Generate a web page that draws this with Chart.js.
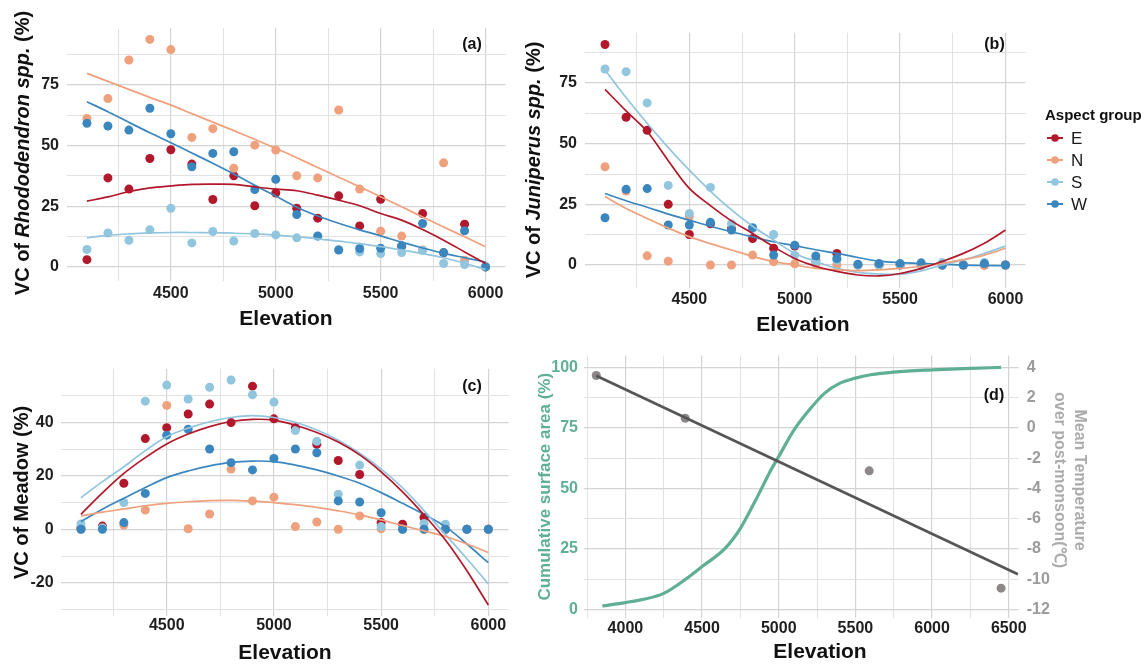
<!DOCTYPE html>
<html>
<head>
<meta charset="utf-8">
<script src="https://cdn.jsdelivr.net/npm/chart.js@4.4.1/dist/chart.umd.min.js"></script>
<style>
  html, body { margin: 0; padding: 0; background: #ffffff; }
  #wrap { position: relative; width: 1144px; height: 666px; overflow: hidden; background: #fff; }
  canvas { position: absolute; }
</style>
</head>
<body>
<div id="wrap">
  <canvas id="cA" width="520" height="340" style="left:0px;top:0px"></canvas>
  <canvas id="cB" width="624" height="340" style="left:520px;top:0px"></canvas>
  <canvas id="cC" width="520" height="336" style="left:0px;top:330px"></canvas>
  <canvas id="cD" width="624" height="336" style="left:520px;top:330px"></canvas>
</div>
<script>
// ---------------- DATA ----------------
const elevation = [4100,4200,4300,4400,4500,4600,4700,4800,4900,5000,5100,5200,5300,5400,5500,5600,5700,5800,5900,6000];
const groups = ['E','N','S','W'];
const groupColors = ['#b2182b','#efa07c','#92c5de','#3a87bf'];

// (a) Rhododendron spp. vegetation cover (%)
const rhoE = [3.0,36.7,32.1,44.7,48.3,42.4,27.8,37.6,25.2,30.5,24.2,20.1,29.3,16.9,27.9,8.5,22.0,5.8,17.6,0];
const rhoN = [61.2,69.4,85.3,93.8,89.6,53.4,57.0,40.7,50.2,48.2,37.6,36.7,64.7,32.1,14.7,12.7,7.0,42.9,2.8,0];
const rhoS = [7.2,14.0,11.0,15.3,24.2,9.9,14.6,10.7,13.8,13.2,12.0,12.6,7.1,6.2,5.5,5.9,6.9,1.4,1.0,0];
const rhoW = [59.2,58.1,56.4,65.4,54.9,41.3,46.8,47.5,31.9,36.1,21.6,12.8,7.0,7.6,7.7,8.7,17.9,5.9,14.9,0];
const rhoFitE = [27.1,28.9,31.0,32.6,33.4,34.0,34.1,34.0,33.0,32.1,31.4,29.6,27.5,25.2,22.0,19.3,15.4,11.0,6.2,1.4];
const rhoFitN = [79.8,76.5,73.2,69.9,66.7,63.2,59.7,56.2,52.6,48.9,45.0,41.0,37.0,33.0,28.9,24.8,20.6,16.5,12.4,8.3];
const rhoFitS = [12.0,13.0,13.6,14.0,14.2,14.2,14.1,13.9,13.6,13.1,12.4,11.6,10.6,9.6,8.4,7.0,5.5,3.8,1.5,-1.1];
const rhoFitW = [68.1,64.0,59.6,55.3,51.2,47.0,42.7,38.3,33.7,29.2,24.6,21.0,18.0,15.3,12.8,10.2,7.8,5.6,3.8,2.0];

// (b) Juniperus spp. vegetation cover (%)
const junE = [90.9,60.9,55.5,25.0,12.6,17.0,15.0,10.9,6.9,7.8,2.0,4.8,0,0,0,0,0,0,0,0];
const junN = [40.5,30.5,3.8,1.6,20.0,0,0,4.1,1.4,0.5,0.5,0,0,0,0,0,0,0,0,0];
const junS = [80.8,79.7,66.8,32.8,21.2,32.0,17.0,15.0,12.6,4.1,1.4,2.0,0,0,0,0,1.0,0,1.0,0];
const junW = [19.5,31.2,31.5,16.5,16.5,17.6,14.4,15.4,4.1,8.2,3.7,2.7,0.3,0.6,0.6,0.9,0,0,0.6,0];
const junFitE = [72.4,63.5,55.0,43.0,31.6,24.5,18.2,13.0,7.5,2.7,-0.5,-2.6,-4.1,-4.5,-3.5,-1.4,1.5,4.8,9.0,14.4];
const junFitN = [28.2,23.3,19.2,15.2,11.7,8.8,6.2,3.6,1.4,0,-1.4,-2.0,-2.3,-2.0,-1.4,-0.5,0.7,2.2,4.1,6.9];
const junFitS = [80.4,69.0,58.4,48.4,39.1,30.5,22.7,16.0,10.3,4.8,1.5,-1.4,-3.0,-3.7,-3.8,-2.4,0,2.1,4.8,7.8];
const junFitW = [29.5,26.5,23.8,21.0,18.5,16.0,13.7,11.6,9.6,8.0,6.3,4.8,3.1,1.6,1.0,0.7,0.3,0,-0.2,-0.3];

// (c) Meadow vegetation cover (%)
const meaE = [0.5,1.2,17.2,33.9,38.0,43.1,46.8,39.9,53.5,41.3,38.0,31.8,25.7,20.5,2.5,1.9,4.4,0,0,0];
const meaN = [0,0.5,1.6,7.2,46.3,0.2,5.7,22.5,10.6,12.0,1.0,2.7,0,5.0,0.2,0,0,0,0,0];
const meaS = [2.0,0.5,10.0,47.9,53.9,48.7,53.1,55.8,50.3,47.6,36.9,32.9,13.1,24.0,1.0,0,2.2,1.9,0,0];
const meaW = [0,0,2.5,13.4,35.2,37.4,30.0,24.9,22.2,26.5,30.0,28.6,10.6,10.2,6.2,0,0,0,0,0];
const meaFitE = [5.6,13.6,20.9,26.8,31.9,35.6,38.4,40.3,41.1,40.8,38.9,36.2,32.6,27.8,21.5,14.0,5.4,-4.0,-15.5,-28.3];
const meaFitN = [5.0,6.4,7.6,8.8,9.7,10.3,10.7,10.8,10.5,10.0,9.2,8.2,6.9,5.4,3.5,1.4,-0.6,-2.7,-5.5,-8.7];
const meaFitS = [11.8,17.8,23.4,29.4,34.6,37.8,40.2,41.8,42.5,41.8,40.0,37.1,33.3,28.4,22.5,15.5,7.0,-2.0,-11.0,-20.4];
const meaFitW = [2.9,7.5,11.6,15.6,19.3,21.8,23.7,25.0,25.5,25.3,24.0,22.2,19.9,17.2,13.7,9.7,5.6,1.0,-5.5,-12.5];

// (d) Cumulative surface area (%) and post-monsoon mean temperature (°C)
const areaElevation = [3850,4000,4100,4250,4400,4500,4650,4750,4850,4950,5000,5100,5200,5300,5400,5500,5600,5750,6000,6250,6450];
const areaCumulative = [1.4,2.8,3.9,6.6,12.8,17.7,25.2,33.5,45.2,57.7,63.2,74.2,82.5,89.4,93.5,95.6,97.0,98.1,99.0,99.6,100];
const tempElevation = [3810,4390,5590,6450];
const tempMean = [3.47,0.64,-2.84,-10.6];
const tempFitElevation = [3810,6560];
const tempFitMean = [3.45,-9.68];

// tick labels
const xMajorABC = [4500,5000,5500,6000];
const xMinorABC = [4250,4750,5250,5750];
const yMajorAB = [0,25,50,75];
const yMinorAB = [12.5,37.5,62.5,87.5];
const yMajorC = [-20,0,20,40];
const yMinorC = [-30,-10,10,30,50];
const xMajorD = [4000,4500,5000,5500,6000,6500];
const xMinorD = [3750,4250,4750,5250,5750,6250];
const yMajorD = [0,25,50,75,100];
const yMinorD = [12.5,37.5,62.5,87.5];
const y2MajorD = [-12,-10,-8,-6,-4,-2,0,2,4];

// ---------------- STYLE / HELPERS ----------------
const FAMILY = '"Liberation Sans", Arial, Helvetica, sans-serif';
Chart.defaults.font.family = FAMILY;
Chart.defaults.animation = false;

function pts(xs, ys) { return xs.map((x, i) => ({ x: x, y: ys[i] })); }

function pointSet(label, ys, color, order) {
  return { label: label, data: pts(elevation, ys), showLine: false, pointRadius: 4.5,
           pointHoverRadius: 4.5, backgroundColor: color, borderColor: color, borderWidth: 0, order: order };
}
function fitSet(label, ys, color, order) {
  return { label: label + ' fit', data: pts(elevation, ys), showLine: true, pointRadius: 0,
           borderColor: color, backgroundColor: color, borderWidth: 1.7, tension: 0.35, fill: false, order: order };
}
function groupSets(pA, fA) {
  const sets = [];
  groups.forEach((g, i) => sets.push(fitSet(g, fA[i], groupColors[i], i)));
  groups.forEach((g, i) => sets.push(pointSet(g, pA[i], groupColors[i], 20 - i)));
  return sets;
}

const MAJOR_GRID = '#d4d4d4', MINOR_GRID = '#e2e2e2';

function axis(opts) {
  const majors = opts.majors, minors = opts.minors || [];
  const all = majors.concat(minors).sort((a, b) => a - b);
  return {
    type: 'linear',
    position: opts.position,
    min: opts.min, max: opts.max,
    afterBuildTicks: s => { s.ticks = all.map(v => ({ value: v })); },
    afterFit: s => { if (opts.w !== undefined) s.width = opts.w; if (opts.h !== undefined) s.height = opts.h; },
    border: { display: false },
    grid: {
      display: opts.grid !== false,
      drawTicks: false,
      color: c => (c.tick && majors.includes(c.tick.value)) ? MAJOR_GRID : MINOR_GRID,
      lineWidth: c => (c.tick && majors.includes(c.tick.value)) ? 1.2 : 1
    },
    ticks: {
      autoSkip: false, maxRotation: 0, minRotation: 0,
      padding: opts.pad,
      color: opts.color || '#1e1e1e',
      font: { family: FAMILY, size: 16, weight: 'bold' },
      callback: v => majors.includes(v) ? String(v) : ''
    },
    title: { display: false }
  };
}

const decor = {
  id: 'decor',
  afterDraw(chart, args, o) {
    const ctx = chart.ctx;
    (o.items || []).forEach(it => {
      ctx.save();
      ctx.translate(it.x, it.y);
      ctx.rotate(it.rot || 0);
      ctx.textBaseline = 'middle';
      ctx.fillStyle = it.color || '#111';
      const parts = it.parts || [{ t: it.text }];
      const fonts = parts.map(p => `${p.italic ? 'italic ' : ''}${it.weight || 'bold'} ${it.size}px ${FAMILY}`);
      const widths = parts.map((p, i) => { ctx.font = fonts[i]; return ctx.measureText(p.t).width; });
      const total = widths.reduce((a, b) => a + b, 0);
      let cx = it.align === 'left' ? 0 : -total / 2;
      parts.forEach((p, i) => {
        ctx.font = fonts[i];
        ctx.textAlign = 'left';
        ctx.fillText(p.t, cx, 0);
        cx += widths[i];
      });
      ctx.restore();
    });
    if (o.legend) {
      const L = o.legend;
      ctx.save();
      ctx.textBaseline = 'middle';
      ctx.textAlign = 'left';
      ctx.fillStyle = '#111';
      ctx.font = `bold 15px ${FAMILY}`;
      ctx.fillText(L.title, L.x, L.titleY);
      L.labels.forEach((lab, i) => {
        const y = L.y0 + i * L.gap;
        ctx.strokeStyle = L.colors[i];
        ctx.lineWidth = 2;
        ctx.beginPath();
        ctx.moveTo(L.x + 2, y); ctx.lineTo(L.x + 18, y); ctx.stroke();
        ctx.fillStyle = L.colors[i];
        ctx.beginPath(); ctx.arc(L.x + 10, y, 3.8, 0, Math.PI * 2); ctx.fill();
        ctx.fillStyle = '#1a1a1a';
        ctx.font = `17px ${FAMILY}`;
        ctx.fillText(lab, L.x + 26, y + 1);
      });
      ctx.restore();
    }
  }
};

function baseOptions(pad, scales, items, legend) {
  return {
    responsive: false,
    animation: false,
    layout: { padding: pad },
    plugins: { legend: { display: false }, tooltip: { enabled: false },
               decor: { items: items, legend: legend } },
    scales: scales
  };
}

// ---------------- PANEL (a) ----------------
new Chart(document.getElementById('cA'), {
  type: 'scatter',
  data: { datasets: groupSets([rhoE, rhoN, rhoS, rhoW], [rhoFitE, rhoFitN, rhoFitS, rhoFitW]) },
  options: baseOptions({ left: 0, right: 14.5, top: 28, bottom: 0 }, {
    x: axis({ position: 'bottom', min: 4005, max: 6095, majors: xMajorABC, minors: xMinorABC, h: 59, pad: 3 }),
    y: axis({ position: 'left', min: -5.8, max: 98.5, majors: yMajorAB, minors: yMinorAB, w: 67, pad: 8 })
  }, [
    { x: 23, y: 153, rot: -Math.PI / 2, size: 20, parts: [{ t: 'VC of ' }, { t: 'Rhododendron spp.', italic: true }, { t: ' (%)' }] },
    { x: 286, y: 319, size: 21, text: 'Elevation' },
    { x: 472, y: 45, size: 16, text: '(a)' }
  ]),
  plugins: [decor]
});

// ---------------- PANEL (b) ----------------
new Chart(document.getElementById('cB'), {
  type: 'scatter',
  data: { datasets: groupSets([junE, junN, junS, junW], [junFitE, junFitN, junFitS, junFitW]) },
  options: baseOptions({ left: 0, right: 118.5, top: 32.8, bottom: 0 }, {
    x: axis({ position: 'bottom', min: 4005, max: 6095, majors: xMajorABC, minors: xMinorABC, h: 52.4, pad: 2 }),
    y: axis({ position: 'left', min: -9.3, max: 95.7, majors: yMajorAB, minors: yMinorAB, w: 65, pad: 8 })
  }, [
    { x: 14, y: 160, rot: -Math.PI / 2, size: 20, parts: [{ t: 'VC of ' }, { t: 'Juniperus spp.', italic: true }, { t: ' (%)' }] },
    { x: 283, y: 325, size: 21, text: 'Elevation' },
    { x: 474.5, y: 45, size: 16, text: '(b)' }
  ], { title: 'Aspect group', x: 525, titleY: 116, labels: groups, colors: groupColors, y0: 138, gap: 22 }),
  plugins: [decor]
});

// ---------------- PANEL (c) ----------------
new Chart(document.getElementById('cC'), {
  type: 'scatter',
  data: { datasets: groupSets([meaE, meaN, meaS, meaW], [meaFitE, meaFitN, meaFitS, meaFitW]) },
  options: baseOptions({ left: 0, right: 11.3, top: 38.8, bottom: 0 }, {
    x: axis({ position: 'bottom', min: 4005, max: 6095, majors: xMajorABC, minors: xMinorABC, h: 49.8, pad: 0 }),
    y: axis({ position: 'left', min: -32.5, max: 60, majors: yMajorC, minors: yMinorC, w: 60.6, pad: 7 })
  }, [
    { x: 22, y: 162.5, rot: -Math.PI / 2, size: 20, text: 'VC of Meadow (%)' },
    { x: 285, y: 323, size: 21, text: 'Elevation' },
    { x: 472, y: 57, size: 16, text: '(c)' }
  ]),
  plugins: [decor]
});

// ---------------- PANEL (d) ----------------
const GREEN = '#5fae96';
new Chart(document.getElementById('cD'), {
  type: 'scatter',
  data: { datasets: [
    { label: 'Temperature fit', data: pts(tempFitElevation, tempFitMean), yAxisID: 'y2', showLine: true,
      pointRadius: 0, borderColor: '#555555', borderWidth: 2.6, order: 1 },
    { label: 'Mean temperature', data: pts(tempElevation, tempMean), yAxisID: 'y2', showLine: false,
      pointRadius: 4.5, backgroundColor: '#8c8888', borderWidth: 0, order: 2 },
    { label: 'Cumulative surface area', data: pts(areaElevation, areaCumulative), yAxisID: 'y', showLine: true,
      pointRadius: 0, borderColor: GREEN, borderWidth: 3.2, cubicInterpolationMode: 'monotone', order: 3 }
  ] },
  options: baseOptions({ left: 0, right: 0, top: 25.6, bottom: 0 }, {
    x: axis({ position: 'bottom', min: 3730, max: 6565, majors: xMajorD, minors: xMinorD, h: 48.2, pad: 1 }),
    y: axis({ position: 'left', min: -3.5, max: 104.9, majors: yMajorD, minors: yMinorD, w: 64, pad: 6, color: GREEN }),
    y2: axis({ position: 'right', min: -12.56, max: 4.784, majors: y2MajorD, w: 125.3, pad: 8, color: '#9b9b9b', grid: false })
  }, [
    { x: 25, y: 156.7, rot: -Math.PI / 2, size: 17, color: GREEN, text: 'Cumulative surface area (%)' },
    { x: 559, y: 150, rot: Math.PI / 2, size: 16, color: '#ababab', text: 'Mean Temperature' },
    { x: 539, y: 150, rot: Math.PI / 2, size: 16, color: '#ababab', text: 'over post-monsoon(℃)' },
    { x: 300, y: 322.5, size: 21, text: 'Elevation' },
    { x: 474, y: 66, size: 16, text: '(d)' }
  ]),
  plugins: [decor]
});
</script>
</body>
</html>
